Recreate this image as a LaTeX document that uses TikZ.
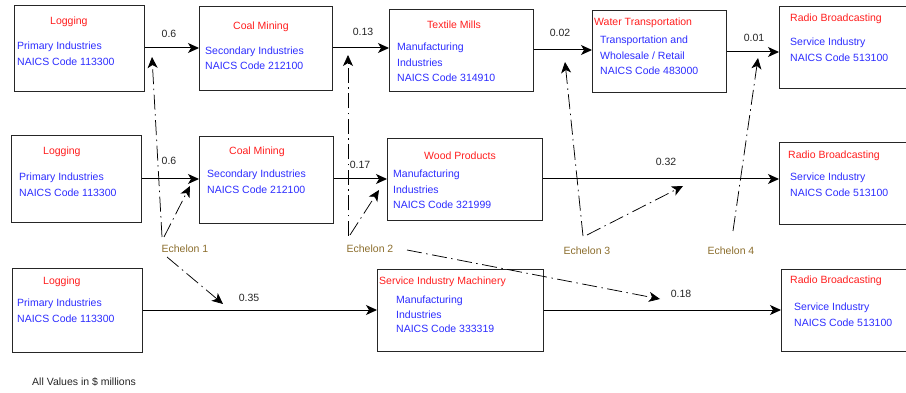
\documentclass[tikz,border=0pt]{standalone}
\usepackage{fontspec}
\setmainfont{Liberation Sans}
\usetikzlibrary{arrows.meta}
\definecolor{tred}{RGB}{255,30,30}
\definecolor{tblue}{RGB}{45,45,255}
\definecolor{ech}{RGB}{140,110,45}
\begin{document}
\begin{tikzpicture}[x=1pt,y=-1pt,
  box/.style={draw=black!85, line width=1pt, anchor=north west, inner sep=0pt},
  ttl/.style={anchor=west, inner sep=0pt, text=tred, font=\fontsize{10.5}{12}\selectfont},
  bdy/.style={anchor=west, inner sep=0pt, text=tblue, font=\fontsize{10.5}{12}\selectfont},
  val/.style={inner sep=0pt, text=black!85, font=\fontsize{10.5}{12}\selectfont},
  echlab/.style={inner sep=0pt, text=ech, font=\fontsize{10.5}{12}\selectfont},
  flow/.style={draw=black, line width=1pt, -{Stealth[length=11pt,width=10pt,inset=3pt]}},
  dd/.style={draw=black, line width=0.75pt, dash pattern=on 15pt off 4.5pt on 1.5pt off 4.5pt, -{Stealth[length=11pt,width=10pt,inset=3pt]}}
]
\useasboundingbox (0,0) rectangle (906,393);
\clip (0,0) rectangle (906,393);
\fill[white] (0,0) rectangle (906,393);

% ---- Row 1 boxes
\node[box, minimum width=130pt, minimum height=86pt] (l1) at (14,5) {};
\node[box, minimum width=133pt, minimum height=84pt] (c1) at (199,6) {};
\node[box, minimum width=144pt, minimum height=82pt] (t1) at (389,9) {};
\node[box, minimum width=134pt, minimum height=82pt] (w1) at (592,10) {};
\node[box, minimum width=135pt, minimum height=82pt] (r1) at (779,6) {};
% ---- Row 2 boxes
\node[box, minimum width=130pt, minimum height=87pt] (l2) at (11,135) {};
\node[box, minimum width=134pt, minimum height=87pt] (c2) at (199,136) {};
\node[box, minimum width=155pt, minimum height=82pt] (p2) at (387,138) {};
\node[box, minimum width=135pt, minimum height=82pt] (r2) at (779,142) {};
% ---- Row 3 boxes
\node[box, minimum width=130pt, minimum height=84pt] (l3) at (12,268) {};
\node[box, minimum width=166pt, minimum height=82pt] (s3) at (377,269) {};
\node[box, minimum width=135pt, minimum height=82pt] (r3) at (781,269) {};

% ---- Row 1 texts
\node[ttl] (l1a) at (50,22) {Logging};
\node[bdy] (l1b) at (17,47) {Primary Industries};
\node[bdy] (l1c) at (17,62) {NAICS Code 113300};
\node[ttl] (c1a) at (233,27) {Coal Mining};
\node[bdy] (c1b) at (205,52) {Secondary Industries};
\node[bdy] (c1c) at (205,66) {NAICS Code 212100};
\node[ttl] (t1a) at (427,25) {Textile Mills};
\node[bdy] (t1b) at (397,48) {Manufacturing};
\node[bdy] (t1c) at (397,63) {Industries};
\node[bdy] (t1d) at (397,78) {NAICS Code 314910};
\node[ttl] (w1a) at (594,23) {Water Transportation};
\node[bdy] (w1b) at (600,41) {Transportation and};
\node[bdy] (w1c) at (600,56) {Wholesale / Retail};
\node[bdy] (w1d) at (600,71) {NAICS Code 483000};
\node[ttl] (r1a) at (790,19) {Radio Broadcasting};
\node[bdy] (r1b) at (790,43) {Service Industry};
\node[bdy] (r1c) at (790,58) {NAICS Code 513100};

% ---- Row 2 texts
\node[ttl] (l2a) at (43,152) {Logging};
\node[bdy] (l2b) at (19,178) {Primary Industries};
\node[bdy] (l2c) at (19,193) {NAICS Code 113300};
\node[ttl] (c2a) at (229,152) {Coal Mining};
\node[bdy] (c2b) at (207,175) {Secondary Industries};
\node[bdy] (c2c) at (207,190) {NAICS Code 212100};
\node[ttl] (p2a) at (424,156) {Wood Products};
\node[bdy] (p2b) at (393,175) {Manufacturing};
\node[bdy] (p2c) at (393,190) {Industries};
\node[bdy] (p2d) at (393,205) {NAICS Code 321999};
\node[ttl] (r2a) at (788,156) {Radio Broadcasting};
\node[bdy] (r2b) at (790,178) {Service Industry};
\node[bdy] (r2c) at (790,193) {NAICS Code 513100};

% ---- Row 3 texts
\node[ttl] (l3a) at (43,282) {Logging};
\node[bdy] (l3b) at (17,304) {Primary Industries};
\node[bdy] (l3c) at (17,319) {NAICS Code 113300};
\node[ttl] (s3a) at (379,282) {Service Industry Machinery};
\node[bdy] (s3b) at (396,301) {Manufacturing};
\node[bdy] (s3c) at (396,315) {Industries};
\node[bdy] (s3d) at (396,329) {NAICS Code 333319};
\node[ttl] (r3a) at (790,281) {Radio Broadcasting};
\node[bdy] (r3b) at (794,308) {Service Industry};
\node[bdy] (r3c) at (794,323) {NAICS Code 513100};

% ---- Flow connectors
\draw[flow] (l1.east |- 0,48) -- (c1.west |- 0,48);
\draw[flow] (c1.east |- 0,48) -- (t1.west |- 0,48);
\draw[flow] (t1.east |- 0,50) -- (w1.west |- 0,50);
\draw[flow] (w1.east |- 0,52) -- (r1.west |- 0,52);
\draw[flow] (l2.east |- 0,179) -- (c2.west |- 0,179);
\draw[flow] (c2.east |- 0,179) -- (p2.west |- 0,179);
\draw[flow] (p2.east |- 0,179) -- (r2.west |- 0,179);
\draw[flow] (l3.east |- 0,310) -- (s3.west |- 0,310);
\draw[flow] (s3.east |- 0,310) -- (r3.west |- 0,310);

% ---- Values
\node[val] (v1) at (169,34) {0.6};
\node[val] (v2) at (363,32) {0.13};
\node[val] (v3) at (560,33) {0.02};
\node[val] (v4) at (754,38) {0.01};
\node[val] (v5) at (169,161) {0.6};
\node[val] (v6) at (360,165) {0.17};
\node[val] (v7) at (666,162) {0.32};
\node[val] (v8) at (249,298) {0.35};
\node[val] (v9) at (681,294) {0.18};

% ---- Echelons
\node[echlab] (e1) at (185,249) {Echelon 1};
\node[echlab] (e2) at (370,249) {Echelon 2};
\node[echlab] (e3) at (587,251) {Echelon 3};
\node[echlab] (e4) at (731,251) {Echelon 4};

\coordinate (e1s1) at (162,237);
\coordinate (e1t1) at (152,57);
\coordinate (e1s2) at (164,237);
\coordinate (e1t2) at (190,186);
\coordinate (e1s3) at (167,257);
\coordinate (e1t3) at (223,304);
\coordinate (e2s1) at (348,236);
\coordinate (e2t1) at (348,55);
\coordinate (e2s2) at (350,235);
\coordinate (e2t2) at (379,190);
\coordinate (e2s3) at (407,250);
\coordinate (e2t3) at (660,299);
\coordinate (e3s1) at (583,236);
\coordinate (e3t1) at (565,62);
\coordinate (e3s2) at (587,235);
\coordinate (e3t2) at (683,186);
\coordinate (e4s1) at (733,231);
\coordinate (e4t1) at (758,58);

\draw[dd] (e1s1) -- (e1t1);
\draw[dd] (e1s2) -- (e1t2);
\draw[dd] (e1s3) -- (e1t3);
\draw[dd] (e2s1) -- (e2t1);
\draw[dd] (e2s2) -- (e2t2);
\draw[dd] (e2s3) -- (e2t3);
\draw[dd] (e3s1) -- (e3t1);
\draw[dd] (e3s2) -- (e3t2);
\draw[dd] (e4s1) -- (e4t1);

% ---- Note
\node[anchor=west, inner sep=0pt, text=black!85, font=\fontsize{10.5}{12}\selectfont] (note) at (32,382) {All Values in \$ millions};
\end{tikzpicture}
\end{document}
